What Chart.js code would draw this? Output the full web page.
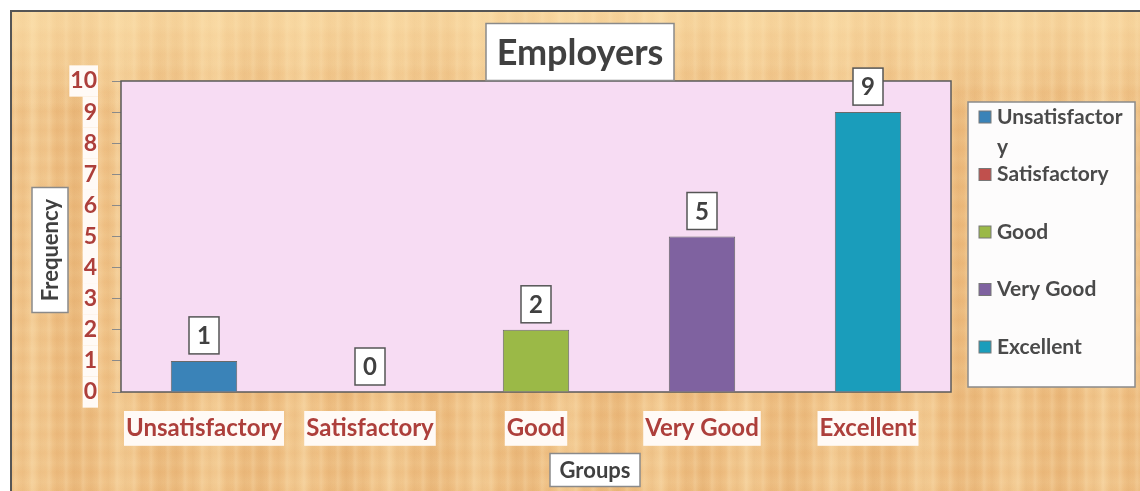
<!DOCTYPE html>
<html>
<head>
<meta charset="utf-8">
<title>Employers</title>
<script src="https://cdn.jsdelivr.net/npm/chart.js@4.4.1/dist/chart.umd.min.js"></script>
<style>
  html, body { margin: 0; padding: 0; background: #ffffff; }
  #wrap { position: relative; width: 1140px; height: 491px; overflow: hidden; }
  /* papyrus-like sheet behind the chart */
  #paper {
    position: absolute; left: 10px; top: 10px; width: 1130px; height: 481px;
    border-left: 2px solid #555; border-top: 2px solid #555;
    box-sizing: border-box;
    background-color: #eebd80;
    background-image:
      linear-gradient(180deg, rgba(255,232,180,0.55) 0px, rgba(255,232,180,0.25) 60px, rgba(255,232,180,0) 100px),
      repeating-linear-gradient(90deg, rgba(255,240,205,0) 0px, rgba(255,240,205,0.18) 3px, rgba(255,240,205,0) 7px, rgba(190,120,50,0.07) 11px, rgba(255,240,205,0) 17px),
      repeating-linear-gradient(90deg, rgba(255,235,190,0) 0px, rgba(255,235,190,0.25) 23px, rgba(255,235,190,0) 41px, rgba(200,130,60,0.1) 67px, rgba(255,235,190,0) 89px),
      repeating-linear-gradient(0deg, rgba(255,235,190,0) 0px, rgba(255,235,190,0.14) 9px, rgba(255,235,190,0) 19px);
  }
  #chart { position: absolute; left: 0; top: 0; }
</style>
</head>
<body>
<div id="wrap">
  <div id="paper"></div>
  <canvas id="chart" width="1140" height="491"></canvas>
</div>
<script>
// Datos
const categories = ["Unsatisfactory", "Satisfactory", "Good", "Very Good", "Excellent"];
const frequencies = [1, 0, 2, 5, 9];
const barColors = ["#3a83b8", "#c0504d", "#9bb947", "#7f62a0", "#1a9dbb"];
const yMax = 10;
const yStep = 1;
const chartTitle = "Employers";
const yTitle = "Frequency";
const xTitle = "Groups";

const FONT = "Lato, 'Open Sans', sans-serif";
const labelRed = "#ad3f3b";
const textGray = "#404040";

// Texto con recuadro blanco
function boxedText(ctx, text, cx, cy, w, h, font, rotate) {
  ctx.save();
  ctx.translate(cx, cy);
  if (rotate) ctx.rotate(-Math.PI / 2);
  ctx.fillStyle = "#ffffff";
  ctx.strokeStyle = "#8a8a8a";
  ctx.lineWidth = 1.5;
  ctx.fillRect(-w / 2, -h / 2, w, h);
  ctx.strokeRect(-w / 2, -h / 2, w, h);
  ctx.fillStyle = textGray;
  ctx.font = font;
  ctx.textAlign = "center";
  ctx.textBaseline = "middle";
  ctx.fillText(text, 0, 1);
  ctx.restore();
}

// Fondo rosa y marco del área de trazado
const plotArea = {
  id: "plotArea",
  beforeDatasetsDraw(chart) {
    const { ctx, chartArea: a } = chart;
    ctx.save();
    ctx.fillStyle = "#f7dcf3";
    ctx.fillRect(a.left, a.top, a.right - a.left, a.bottom - a.top);
    ctx.strokeStyle = "#5a5a5a";
    ctx.lineWidth = 1.5;
    ctx.strokeRect(a.left, a.top, a.right - a.left, a.bottom - a.top);
    ctx.restore();
  },
};

// Etiquetas de valor encima de cada barra
const valueBoxes = {
  id: "valueBoxes",
  afterDatasetsDraw(chart) {
    const { ctx } = chart;
    const meta = chart.getDatasetMeta(0);
    meta.data.forEach((bar, i) => {
      const w = 30, h = 37;
      const x = bar.x - w / 2;
      const y = bar.y - 7 - h;
      ctx.save();
      ctx.fillStyle = "#ffffff";
      ctx.strokeStyle = "#555555";
      ctx.lineWidth = 1.5;
      ctx.fillRect(x, y, w, h);
      ctx.strokeRect(x, y, w, h);
      ctx.fillStyle = textGray;
      ctx.font = "bold 24px " + FONT;
      ctx.textAlign = "center";
      ctx.textBaseline = "middle";
      ctx.fillText(String(frequencies[i]), bar.x, y + h / 2 + 1);
      ctx.restore();
    });
  },
};

// Leyenda, título y títulos de ejes
const annotations = {
  id: "annotations",
  afterDraw(chart) {
    const { ctx } = chart;

    boxedText(ctx, chartTitle, 580, 52, 188, 57, "bold 36px " + FONT, false);
    boxedText(ctx, yTitle, 50, 250, 125, 36, "bold 22px " + FONT, true);
    boxedText(ctx, xTitle, 595, 470, 90, 33, "bold 22px " + FONT, false);

    // leyenda
    const lx = 968, ly = 102, lw = 167, lh = 285;
    ctx.save();
    ctx.fillStyle = "#fdfcfc";
    ctx.strokeStyle = "#8a8a8a";
    ctx.lineWidth = 1.5;
    ctx.fillRect(lx, ly, lw, lh);
    ctx.strokeRect(lx, ly, lw, lh);
    ctx.font = "bold 21px " + FONT;
    ctx.textBaseline = "middle";
    ctx.textAlign = "left";
    const textX = 997;
    const maxW = lx + lw - textX - 4;
    categories.forEach((name, i) => {
      const cy = 117 + i * 57.5;
      ctx.fillStyle = barColors[i];
      ctx.fillRect(979, cy - 6, 12, 12);
      ctx.strokeStyle = "#777";
      ctx.lineWidth = 1;
      ctx.strokeRect(979, cy - 6, 12, 12);
      // corte por caracteres cuando no cabe
      const lines = [];
      let cur = "";
      for (const ch of name) {
        if (ctx.measureText(cur + ch).width > maxW && cur) {
          lines.push(cur);
          cur = ch;
        } else {
          cur += ch;
        }
      }
      lines.push(cur);
      ctx.fillStyle = "#4a4a4a";
      lines.forEach((ln, k) => ctx.fillText(ln, textX, cy + k * 30));
    });
    ctx.restore();
  },
};

const ctx = document.getElementById("chart").getContext("2d");
new Chart(ctx, {
  type: "bar",
  data: {
    labels: categories,
    datasets: [
      {
        label: chartTitle,
        data: frequencies,
        backgroundColor: barColors,
        borderColor: "#6a6a6a",
        borderWidth: 1,
        barPercentage: 0.4,
        categoryPercentage: 1.0,
      },
    ],
  },
  options: {
    responsive: false,
    animation: false,
    devicePixelRatio: 1,
    layout: { padding: { top: 81, right: 189, left: 0, bottom: 0 } },
    plugins: {
      legend: { display: false },
      title: { display: false },
      tooltip: { enabled: false },
    },
    scales: {
      x: {
        afterFit(scale) { scale.height = 99; },
        grid: { display: false },
        border: { display: false },
        ticks: {
          color: labelRed,
          font: { family: FONT, size: 24, weight: "bold" },
          padding: 14,
          maxRotation: 0,
          autoSkip: false,
          showLabelBackdrop: true,
          backdropColor: "#fffaf6",
          backdropPadding: { x: 2, y: 3 },
        },
      },
      y: {
        min: 0,
        max: yMax,
        afterFit(scale) { scale.width = 121; },
        grid: { drawOnChartArea: false, drawTicks: true, tickLength: 9, color: "#8a8a8a" },
        border: { display: false },
        ticks: {
          stepSize: yStep,
          autoSkip: false,
          color: labelRed,
          font: { family: FONT, size: 23, weight: "bold", lineHeight: 1.1 },
          padding: 15,
          showLabelBackdrop: true,
          backdropColor: "#fffaf6",
          backdropPadding: { x: 1, y: 3 },
        },
      },
    },
  },
  plugins: [plotArea, valueBoxes, annotations],
});
</script>
</body>
</html>
